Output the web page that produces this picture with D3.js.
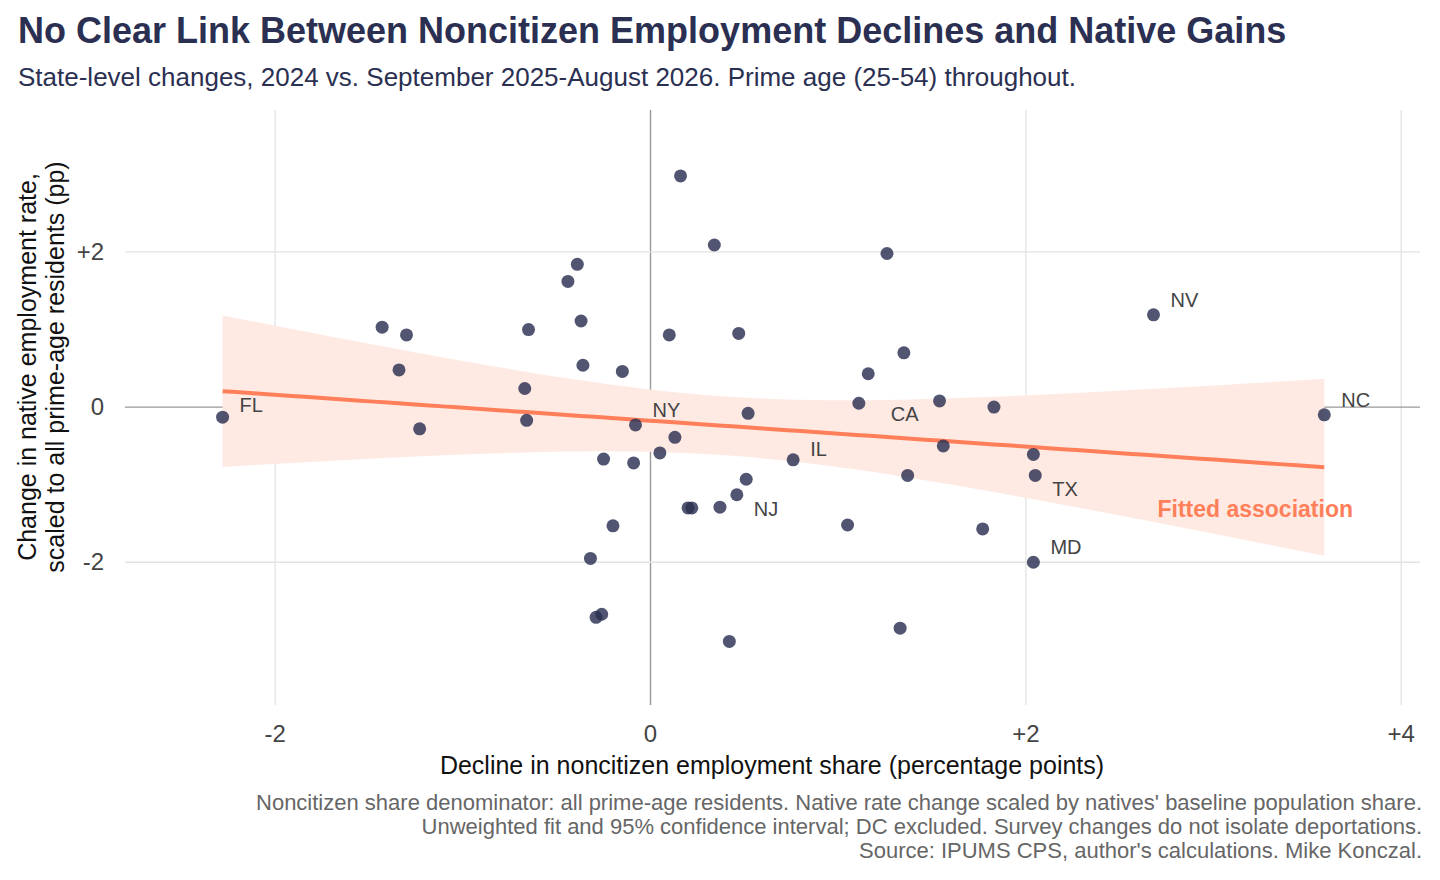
<!DOCTYPE html>
<html><head><meta charset="utf-8">
<script src="https://cdn.jsdelivr.net/npm/d3@7"></script>
<style>body{margin:0;background:#fff;font-family:"Liberation Sans",Arial,sans-serif}</style>
</head><body><svg id="c" width="1440" height="880"></svg>
<script>
const xs=[-2.28,-1.43,-1.30,-1.34,-1.23,-0.65,-0.67,-0.66,-0.39,-0.44,-0.37,-0.36,-0.15,-0.25,-0.09,-0.08,-0.20,-0.32,-0.26,-0.29,0.16,0.34,0.10,0.47,0.52,0.13,0.05,0.51,0.46,0.37,0.20,0.22,0.42,0.76,1.26,1.35,1.16,1.11,1.54,1.83,1.56,1.37,1.05,1.33,1.77,2.04,2.05,2.04,2.68,3.59];
const ys=[-0.13,1.03,0.93,0.48,-0.28,1.00,0.24,-0.17,1.84,1.62,1.11,0.54,0.46,-0.67,-0.72,-0.23,-1.53,-1.95,-2.67,-2.71,2.98,2.09,0.93,0.95,-0.08,-0.39,-0.59,-0.93,-1.13,-1.29,-1.30,-1.30,-3.02,-0.68,1.98,0.70,0.43,0.05,0.08,0.00,-0.50,-0.88,-1.52,-2.85,-1.57,-0.61,-0.88,-2.00,1.19,-0.10];
const labelIdx=[0,15,33,37,28,46,47,48,49];
const labelText=["FL","NY","IL","CA","NJ","TX","MD","NV","NC"];
const labelDx=[17,17,17,32,17,17,17,17,17], labelDy=[-5,-8,-4,18,21,21,-8,-8,-8];
const xTicks=[-2,0,2,4], yTicks=[-2,0,2];
const fmt=v=>v>0?"+"+v:v<0?"-"+Math.abs(v):"0";

const svg=d3.select("#c");
const x=d3.scaleLinear().domain([-2.8,4.1]).range([125,1420]);
const y=d3.scaleLinear().domain([-3.84,3.83]).range([705,110]);
const g=svg.append("g");
g.selectAll(".vx").data(xTicks).join("line").attr("x1",x).attr("x2",x).attr("y1",110).attr("y2",705).attr("stroke",d=>d===0?"#999":"#e3e3e3").attr("stroke-width",d=>d===0?1.4:1.3);
g.selectAll(".hy").data(yTicks).join("line").attr("y1",y).attr("y2",y).attr("x1",125).attr("x2",1420).attr("stroke",d=>d===0?"#999":"#e3e3e3").attr("stroke-width",d=>d===0?1.4:1.3);
const n=xs.length,mx=d3.mean(xs),my=d3.mean(ys);
let sxx=0,sxy=0;xs.forEach((v,i)=>{sxx+=(v-mx)**2;sxy+=(v-mx)*(ys[i]-my)});
const b=sxy/sxx,a=my-b*mx;
let sse=0;xs.forEach((v,i)=>{sse+=(ys[i]-a-b*v)**2});
const s=Math.sqrt(sse/(n-2)),t=2.01;
const x0=d3.min(xs),x1=d3.max(xs);
const grid=d3.range(0,81).map(i=>x0+(x1-x0)*i/80);
const band=grid.map(v=>{const se=s*Math.sqrt(1/n+(v-mx)**2/sxx);return {x:v,f:a+b*v,lo:a+b*v-t*se,hi:a+b*v+t*se}});
g.append("path").datum(band).attr("d",d3.area().x(d=>x(d.x)).y0(d=>y(d.lo)).y1(d=>y(d.hi))).attr("fill","#feeae3");
g.append("path").datum(band).attr("d",d3.line().x(d=>x(d.x)).y(d=>y(d.f))).attr("stroke","#ff7f5a").attr("stroke-width",4).attr("fill","none");
g.selectAll("circle").data(xs).join("circle").attr("cx",d=>x(d)).attr("cy",(d,i)=>y(ys[i])).attr("r",6.5).attr("fill","#2b3052").attr("opacity",0.82);
g.selectAll(".lb").data(labelIdx).join("text").attr("x",(d,i)=>x(xs[d])+labelDx[i]).attr("y",(d,i)=>y(ys[d])+labelDy[i]).text((d,i)=>labelText[i]).attr("font-size",20).attr("fill","#444");
g.append("text").attr("x",1353).attr("y",517).attr("text-anchor","end").attr("font-size",23).attr("font-weight","bold").attr("fill","#ff7f5a").text("Fitted association");
g.selectAll(".xt").data(xTicks).join("text").attr("x",x).attr("y",742).attr("text-anchor","middle").attr("font-size",24).attr("fill","#444").text(fmt);
g.selectAll(".yt").data(yTicks).join("text").attr("x",104).attr("y",d=>y(d)+8).attr("text-anchor","end").attr("font-size",24).attr("fill","#444").text(fmt);
g.append("text").attr("x",772).attr("y",774).attr("text-anchor","middle").attr("font-size",25).attr("fill","#111").text("Decline in noncitizen employment share (percentage points)");
const yl=g.append("text").attr("transform","translate(0,367) rotate(-90)").attr("text-anchor","middle").attr("font-size",25).attr("fill","#111");
yl.append("tspan").attr("x",0).attr("y",36).text("Change in native employment rate,");
yl.append("tspan").attr("x",0).attr("y",64).text("scaled to all prime-age residents (pp)");
svg.append("text").attr("x",18).attr("y",43).attr("font-size",36).attr("font-weight","bold").attr("fill","#2b3052").text("No Clear Link Between Noncitizen Employment Declines and Native Gains");
svg.append("text").attr("x",18).attr("y",86).attr("font-size",26).attr("fill","#2b3052").text("State-level changes, 2024 vs. September 2025-August 2026. Prime age (25-54) throughout.");
["Noncitizen share denominator: all prime-age residents. Native rate change scaled by natives' baseline population share.","Unweighted fit and 95% confidence interval; DC excluded. Survey changes do not isolate deportations.","Source: IPUMS CPS, author's calculations. Mike Konczal."].forEach((t,i)=>svg.append("text").attr("x",1422).attr("y",810+i*24).attr("text-anchor","end").attr("font-size",22).attr("fill","#666").text(t));
</script></body></html>
